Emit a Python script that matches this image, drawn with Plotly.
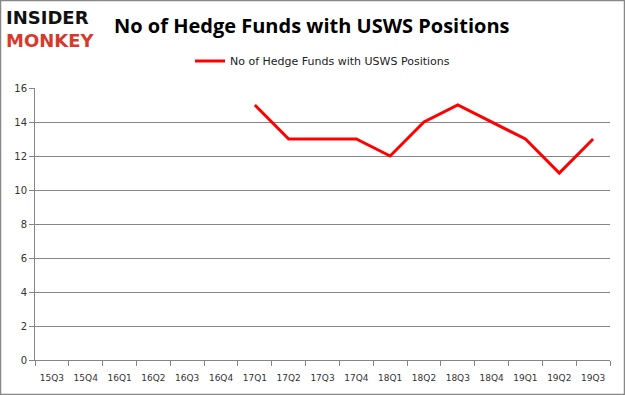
import plotly.graph_objects as go

quarters = ["15Q3","15Q4","16Q1","16Q2","16Q3","16Q4","17Q1","17Q2","17Q3","17Q4",
            "18Q1","18Q2","18Q3","18Q4","19Q1","19Q2","19Q3"]
funds = [None,None,None,None,None,None,15,13,13,13,12,14,15,14,13,11,13]
y_ticks = [0,2,4,6,8,10,12,14,16]
series_name = "No of Hedge Funds with USWS Positions"

W, H = 625, 395
L, R, T, B = 35, 15, 88, 35
pw, ph = W - L - R, H - T - B

def px(x): return (x - L) / pw
def py(y): return 1 - (y - T) / ph

fig = go.Figure()
fig.add_trace(go.Scatter(x=quarters, y=funds, mode="lines", name=series_name,
                         line=dict(color="#ff0000", width=3), connectgaps=False))

fig.update_layout(
    width=W, height=H, margin=dict(l=L, r=R, t=T, b=B, autoexpand=False),
    paper_bgcolor="white", plot_bgcolor="white",
    showlegend=True,
    legend=dict(orientation="h", x=0.5, xanchor="center", y=py(61), yanchor="middle",
                font=dict(family="DejaVu Sans", size=11, color="#222"),
                bgcolor="rgba(0,0,0,0)"),
    xaxis=dict(type="category", categoryorder="array", categoryarray=quarters,
               range=[-0.5, len(quarters) - 0.5], tickangle=0, automargin=False,
               showline=True, linecolor="#868686", linewidth=1,
               ticks="outside", tickson="boundaries", ticklen=5, tickcolor="#868686",
               ticklabelstandoff=9,
               showgrid=False, tickfont=dict(family="DejaVu Sans", size=9, color="#333")),
    yaxis=dict(range=[0, 16], tickvals=y_ticks, showline=True, linecolor="#868686",
               linewidth=1, ticks="outside", ticklen=5, tickcolor="#868686", automargin=False,
               showgrid=True, gridcolor="#868686", gridwidth=1, zeroline=False,
               tickfont=dict(family="DejaVu Sans", size=10, color="#333")),
    shapes=[dict(type="rect", xref="paper", yref="paper",
                 x0=px(0.5), x1=px(W - 0.5), y0=py(H - 0.5), y1=py(0.5),
                 line=dict(color="#888888", width=1.5), fillcolor="rgba(0,0,0,0)", layer="below")],
    annotations=[
        dict(text="<b>No of Hedge Funds with USWS Positions</b>", xref="paper", yref="paper",
             x=px(312), y=py(26), xanchor="center", yanchor="middle", showarrow=False,
             font=dict(family="Open Sans", size=20, color="#000")),
        dict(text="<b>INSIDER</b><br><b><span style='color:#d9392b'>MONKEY</span></b>",
             xref="paper", yref="paper", x=px(4), y=py(29), align="left",
             xanchor="left", yanchor="middle", showarrow=False,
             font=dict(family="DejaVu Sans", size=18, color="#111")),
    ],
)

fig.write_html("out.html", config={"displayModeBar": False},
               post_script="document.body.style.margin='0';document.body.style.padding='0';")
